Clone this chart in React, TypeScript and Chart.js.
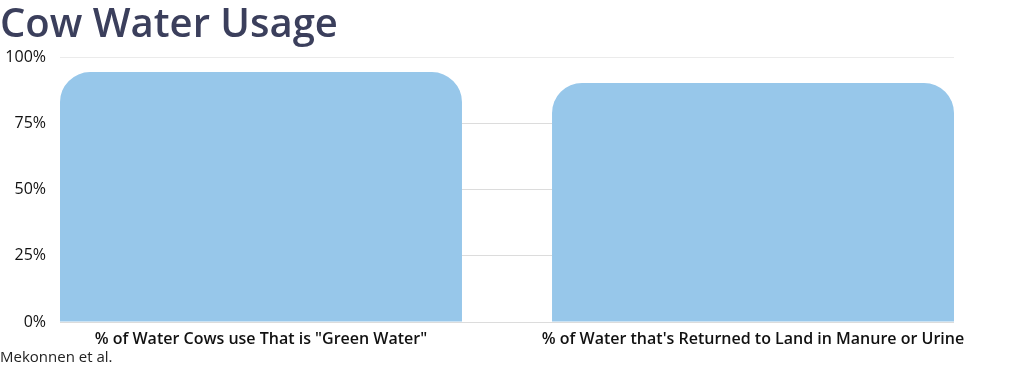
import React, { useEffect, useRef } from "react";
import { Chart, registerables } from "chart.js";

Chart.register(...registerables);

const categories = [
  '% of Water Cows use That is "Green Water"',
  "% of Water that's Returned to Land in Manure or Urine",
];
const values = [94.3, 90.2];
const yTicks = [0, 25, 50, 75, 100];
const titleText = "Cow Water Usage";
const sourceText = "Mekonnen et al.";

const FONT = "'Open Sans', 'Noto Sans', sans-serif";

export default function App() {
  const ref = useRef<HTMLCanvasElement | null>(null);
  useEffect(() => {
    if (!ref.current) return;
    const chart = new Chart(ref.current, {
      type: "bar",
      data: {
        datasets: [
          {
            data: values.map((v, i) => ({ x: i, y: v })),
            backgroundColor: "#97C7EA",
            borderRadius: { topLeft: 30, topRight: 30, bottomLeft: 0, bottomRight: 0 },
            borderSkipped: false,
            barPercentage: 0.817,
            categoryPercentage: 1.0,
          },
        ],
      },
      options: {
        animation: false,
        responsive: false,
        maintainAspectRatio: false,
        layout: { padding: { left: 0, right: 76, top: 0, bottom: 0 } },
        plugins: {
          legend: { display: false },
          tooltip: { enabled: false },
          title: {
            display: true,
            text: titleText,
            align: "start",
            color: "#3B3F5C",
            font: { family: FONT, size: 40, weight: "600" },
            padding: { top: 2, bottom: 7 },
          },
          subtitle: {
            display: true,
            position: "bottom",
            text: sourceText,
            align: "start",
            color: "#222",
            font: { family: FONT, size: 15, weight: "normal" },
            padding: { top: 0, bottom: 0 },
          },
        },
        scales: {
          x: {
            type: "linear",
            offset: false,
            min: -0.4085,
            max: 1.4085,
            afterBuildTicks: (scale: any) => {
              scale.ticks = categories.map((_, i) => ({ value: i }));
            },
            afterFit: (scale: any) => {
              scale.height = 27;
            },
            grid: { display: false, offset: false, drawTicks: false },
            border: { display: false },
            ticks: {
              color: "#111",
              font: { family: FONT, size: 16, weight: "600" },
              padding: 8,
              maxRotation: 0,
              autoSkip: false,
              callback: (v: any) => categories[v as number] ?? "",
            },
          },
          y: {
            min: 0,
            max: 100,
            afterBuildTicks: (scale: any) => {
              scale.ticks = yTicks.map((v) => ({ value: v }));
            },
            afterFit: (scale: any) => {
              scale.width = 60;
            },
            border: { display: false },
            grid: {
              drawTicks: false,
              color: (ctx: any) =>
                ctx.tick && ctx.tick.value === 100 ? "#EBEBEB" : "#DCDCDC",
              lineWidth: 1,
            },
            ticks: {
              color: "#111",
              font: { family: FONT, size: 16, weight: "500" },
              padding: 14,
              callback: (v: any) => v + "%",
            },
          },
        },
      },
    });
    return () => chart.destroy();
  }, []);
  return (
    <div style={{ position: "absolute", left: 0, top: 0, width: 1030, height: 367, background: "#fff" }}>
      <canvas ref={ref} width={1030} height={367} style={{ width: 1030, height: 367 }} />
    </div>
  );
}
